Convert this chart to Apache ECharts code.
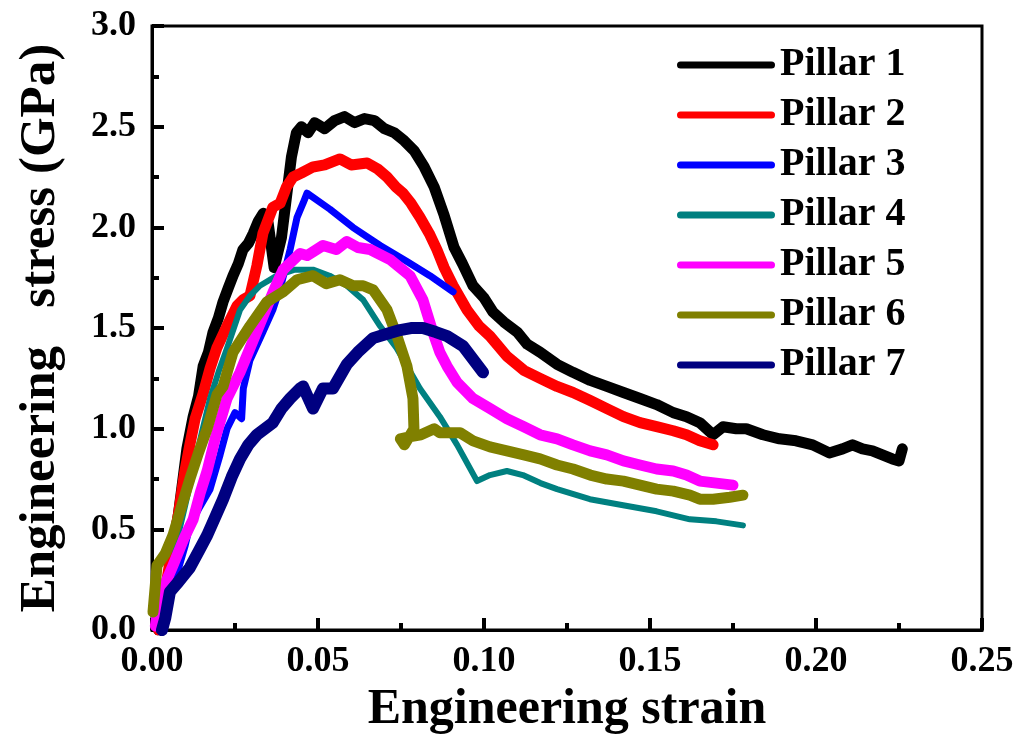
<!DOCTYPE html>
<html>
<head>
<meta charset="utf-8">
<script src="https://cdn.jsdelivr.net/npm/echarts@6/dist/echarts.min.js"></script>
<style>
  html, body { margin: 0; padding: 0; background: #fff; }
  #chart { width: 1019px; height: 740px; }
</style>
</head>
<body>
<div id="chart"></div>
<script>
  // 工程应变 / 工程应力 [strain, stress(GPa)]
  var pillarNames = ['Pillar 1', 'Pillar 2', 'Pillar 3', 'Pillar 4', 'Pillar 5', 'Pillar 6', 'Pillar 7']
  var pillarColors = ['#000000', '#ff0000', '#0000ff', '#008080', '#ff00ff', '#808000', '#000080']
  var pillarWidths = [11, 11, 7, 6, 11, 11, 12]

  var pillar1 = [[0.002, 0], [0.004, 0.12], [0.006, 0.36], [0.008, 0.58], [0.0105, 0.9], [0.0124, 1.06], [0.014, 1.16],
    [0.0154, 1.31], [0.017, 1.38], [0.0184, 1.48], [0.020, 1.55], [0.0214, 1.63], [0.023, 1.7], [0.0244, 1.76],
    [0.026, 1.82], [0.0274, 1.89], [0.029, 1.92], [0.0305, 1.97], [0.032, 2.03], [0.0335, 2.07], [0.035, 2.02],
    [0.0368, 1.80], [0.039, 1.95], [0.0405, 2.15], [0.042, 2.35], [0.0435, 2.47], [0.045, 2.50], [0.047, 2.47],
    [0.049, 2.52], [0.052, 2.49], [0.055, 2.53], [0.058, 2.55], [0.061, 2.52], [0.064, 2.54], [0.067, 2.53],
    [0.070, 2.49], [0.073, 2.47], [0.076, 2.43], [0.079, 2.38], [0.082, 2.30], [0.085, 2.20], [0.088, 2.06],
    [0.091, 1.90], [0.0935, 1.82], [0.0967, 1.71], [0.100, 1.65], [0.1027, 1.58], [0.106, 1.53], [0.110, 1.48],
    [0.113, 1.42], [0.1169, 1.38], [0.122, 1.32], [0.1268, 1.28], [0.132, 1.24], [0.137, 1.21], [0.142, 1.18],
    [0.147, 1.15], [0.152, 1.12], [0.157, 1.08], [0.161, 1.06], [0.165, 1.03], [0.169, 0.97], [0.172, 1.01],
    [0.176, 1.00], [0.179, 1.00], [0.184, 0.97], [0.189, 0.95], [0.194, 0.94], [0.199, 0.92], [0.204, 0.88],
    [0.208, 0.90], [0.211, 0.92], [0.214, 0.90], [0.217, 0.89], [0.220, 0.87], [0.223, 0.85], [0.225, 0.84], [0.226, 0.90]]

  var pillar2 = [[0.002, 0], [0.004, 0.2], [0.006, 0.4], [0.008, 0.58], [0.0098, 0.78], [0.0114, 0.92], [0.013, 1.05],
    [0.0155, 1.18], [0.0175, 1.3], [0.0195, 1.40], [0.0226, 1.51], [0.0256, 1.61], [0.0274, 1.64], [0.0295, 1.66],
    [0.0316, 1.81], [0.0334, 1.97], [0.0364, 2.1], [0.0386, 2.12], [0.0405, 2.2], [0.0425, 2.25], [0.045, 2.27],
    [0.0485, 2.3], [0.052, 2.31], [0.0566, 2.34], [0.060, 2.31], [0.0648, 2.32], [0.068, 2.29], [0.0708, 2.25],
    [0.0735, 2.2], [0.0756, 2.17], [0.078, 2.12], [0.0807, 2.05], [0.0835, 1.97], [0.0858, 1.89], [0.088, 1.80],
    [0.0907, 1.71], [0.0949, 1.59], [0.0985, 1.51], [0.1018, 1.46], [0.1069, 1.36], [0.112, 1.29], [0.1169, 1.25],
    [0.122, 1.21], [0.1268, 1.18], [0.132, 1.14], [0.137, 1.10], [0.142, 1.06], [0.147, 1.03], [0.152, 1.01],
    [0.157, 0.99], [0.161, 0.97], [0.165, 0.94], [0.169, 0.92]]

  var pillar3 = [[0.003, 0], [0.005, 0.12], [0.007, 0.25], [0.010, 0.42], [0.0114, 0.52], [0.014, 0.6],
    [0.0175, 0.70], [0.0205, 0.87], [0.0226, 1.0], [0.025, 1.08], [0.027, 1.05], [0.0275, 1.2], [0.0295, 1.34],
    [0.0334, 1.48], [0.0364, 1.59], [0.039, 1.72], [0.0416, 1.89], [0.0437, 2.05], [0.0455, 2.12], [0.0467, 2.17],
    [0.0536, 2.09], [0.0605, 2.0], [0.0687, 1.91], [0.0768, 1.83], [0.0837, 1.76], [0.0907, 1.68]]

  var pillar4 = [[0.002, 0], [0.004, 0.15], [0.006, 0.3], [0.008, 0.48], [0.010, 0.62], [0.0125, 0.8], [0.015, 0.98],
    [0.0175, 1.15], [0.020, 1.28], [0.0226, 1.40], [0.0265, 1.59], [0.0295, 1.66], [0.0325, 1.71], [0.0376, 1.76],
    [0.043, 1.79], [0.0485, 1.79], [0.0535, 1.76], [0.0587, 1.71], [0.0636, 1.64], [0.0687, 1.51], [0.0737, 1.40],
    [0.0807, 1.20], [0.0867, 1.06], [0.0919, 0.92], [0.0979, 0.74], [0.1018, 0.77], [0.1069, 0.79], [0.1117, 0.77],
    [0.117, 0.73], [0.122, 0.70], [0.1319, 0.65], [0.1419, 0.62], [0.152, 0.59], [0.162, 0.55], [0.170, 0.54], [0.178, 0.52]]

  var pillar5 = [[0.001, 0.02], [0.0024, 0.17], [0.0063, 0.32], [0.0095, 0.45], [0.0124, 0.55], [0.0145, 0.68],
    [0.0166, 0.79], [0.019, 0.95], [0.0226, 1.15], [0.0265, 1.28], [0.030, 1.42], [0.0335, 1.56], [0.0365, 1.68],
    [0.0395, 1.79], [0.0446, 1.87], [0.0467, 1.86], [0.0515, 1.91], [0.0555, 1.89], [0.0587, 1.93], [0.062, 1.90],
    [0.0657, 1.89], [0.0717, 1.84], [0.0777, 1.76], [0.0816, 1.64], [0.0846, 1.48], [0.0867, 1.38], [0.0889, 1.31],
    [0.0919, 1.23], [0.0967, 1.15], [0.1018, 1.10], [0.1069, 1.05], [0.112, 1.01], [0.1169, 0.97], [0.122, 0.95],
    [0.1268, 0.92], [0.132, 0.89], [0.137, 0.87], [0.142, 0.84], [0.147, 0.82], [0.152, 0.80], [0.157, 0.79],
    [0.161, 0.77], [0.165, 0.74], [0.170, 0.73], [0.175, 0.72]]

  var pillar6 = [[0.0003, 0.09], [0.0015, 0.32], [0.004, 0.38], [0.0063, 0.47], [0.009, 0.62], [0.0114, 0.75],
    [0.014, 0.88], [0.0166, 1.0], [0.0196, 1.17], [0.0214, 1.21], [0.0244, 1.38], [0.0295, 1.51], [0.0346, 1.63],
    [0.0395, 1.68], [0.0437, 1.74], [0.0485, 1.76], [0.0525, 1.72], [0.0566, 1.74], [0.0606, 1.71], [0.0636, 1.71],
    [0.0666, 1.69], [0.0708, 1.59], [0.0738, 1.46], [0.0768, 1.31], [0.0786, 1.15], [0.0789, 1.0], [0.0760, 0.92],
    [0.0748, 0.95], [0.0775, 0.96], [0.081, 0.97], [0.085, 1.0], [0.0867, 0.98], [0.0928, 0.98], [0.0967, 0.94],
    [0.1018, 0.91], [0.1069, 0.89], [0.112, 0.87], [0.1169, 0.85], [0.122, 0.82], [0.1268, 0.80], [0.132, 0.77],
    [0.137, 0.75], [0.142, 0.74], [0.147, 0.72], [0.152, 0.70], [0.157, 0.69], [0.162, 0.67], [0.165, 0.65],
    [0.169, 0.65], [0.174, 0.66], [0.178, 0.67]]

  var pillar7 = [[0.003, 0], [0.004, 0.06], [0.0054, 0.19], [0.008, 0.24], [0.0114, 0.31], [0.014, 0.39],
    [0.0166, 0.47], [0.019, 0.56], [0.0214, 0.65], [0.024, 0.76], [0.0265, 0.85], [0.029, 0.92], [0.0316, 0.97],
    [0.034, 1.0], [0.0364, 1.03], [0.039, 1.1], [0.0416, 1.15], [0.0446, 1.2], [0.0455, 1.21], [0.0485, 1.1],
    [0.0515, 1.2], [0.0545, 1.2], [0.0587, 1.32], [0.062, 1.38], [0.0666, 1.45], [0.0706, 1.47], [0.0747, 1.49],
    [0.078, 1.50], [0.0816, 1.50], [0.0855, 1.48], [0.0889, 1.46], [0.0937, 1.41], [0.0997, 1.28]]

  var pillarData = [pillar1, pillar2, pillar3, pillar4, pillar5, pillar6, pillar7]

  var fontFamily = '"Liberation Serif", "Times New Roman", serif'
  var myChart = echarts.init(document.getElementById('chart'))

  var series = pillarNames.map(function (name, i) {
    return {
      name: name,
      type: 'line',
      data: pillarData[i],
      showSymbol: false,
      symbol: 'none',
      animation: false,
      color: pillarColors[i],
      lineStyle: {
        width: pillarWidths[i],
        cap: 'round',
        join: 'round'
      }
    }
  })

  var option = {
    backgroundColor: '#fff',
    animation: false,
    grid: {
      left: 152,
      right: 37,
      top: 26,
      bottom: 108,
      show: true,
      borderColor: '#000',
      borderWidth: 3
    },
    legend: {
      orient: 'vertical',
      left: 672,
      top: 40,
      icon: 'path://M3.5,0 L94.5,0 A3.5,3.5 0 0 1 94.5,7 L3.5,7 A3.5,3.5 0 0 1 3.5,0 Z',
      itemWidth: 98,
      itemHeight: 7,
      itemGap: 10,
      data: pillarNames,
      textStyle: {
        fontFamily: fontFamily,
        fontWeight: 'bold',
        fontSize: 40,
        color: '#000'
      }
    },
    xAxis: {
      type: 'value',
      min: 0,
      max: 0.25,
      interval: 0.05,
      name: 'Engineering strain',
      nameLocation: 'middle',
      nameGap: 52,
      nameTextStyle: {
        fontFamily: fontFamily,
        fontWeight: 'bold',
        fontSize: 50,
        color: '#000'
      },
      axisLine: { show: true, onZero: false, lineStyle: { color: '#000', width: 3 } },
      axisTick: { show: true, inside: true, length: 12, lineStyle: { color: '#000', width: 4 } },
      minorTick: { show: true, splitNumber: 2, length: 7, lineStyle: { color: '#000', width: 4 } },
      splitLine: { show: false },
      axisLabel: {
        margin: 14,
        fontFamily: fontFamily,
        fontWeight: 'bold',
        fontSize: 36,
        color: '#000',
        formatter: function (v) { return v.toFixed(2) }
      }
    },
    yAxis: {
      type: 'value',
      min: 0,
      max: 3,
      interval: 0.5,
      name: 'Engineering   stress (GPa)',
      nameLocation: 'middle',
      nameGap: 86,
      nameTextStyle: {
        fontFamily: fontFamily,
        fontWeight: 'bold',
        fontSize: 51,
        color: '#000'
      },
      axisLine: { show: true, onZero: false, lineStyle: { color: '#000', width: 3 } },
      axisTick: { show: true, inside: true, length: 12, lineStyle: { color: '#000', width: 4 } },
      minorTick: { show: true, splitNumber: 2, length: 7, lineStyle: { color: '#000', width: 4 } },
      splitLine: { show: false },
      axisLabel: {
        margin: 16,
        fontFamily: fontFamily,
        fontWeight: 'bold',
        fontSize: 36,
        color: '#000',
        formatter: function (v) { return v.toFixed(1) }
      }
    },
    series: series
  }

  myChart.setOption(option)
</script>
</body>
</html>
